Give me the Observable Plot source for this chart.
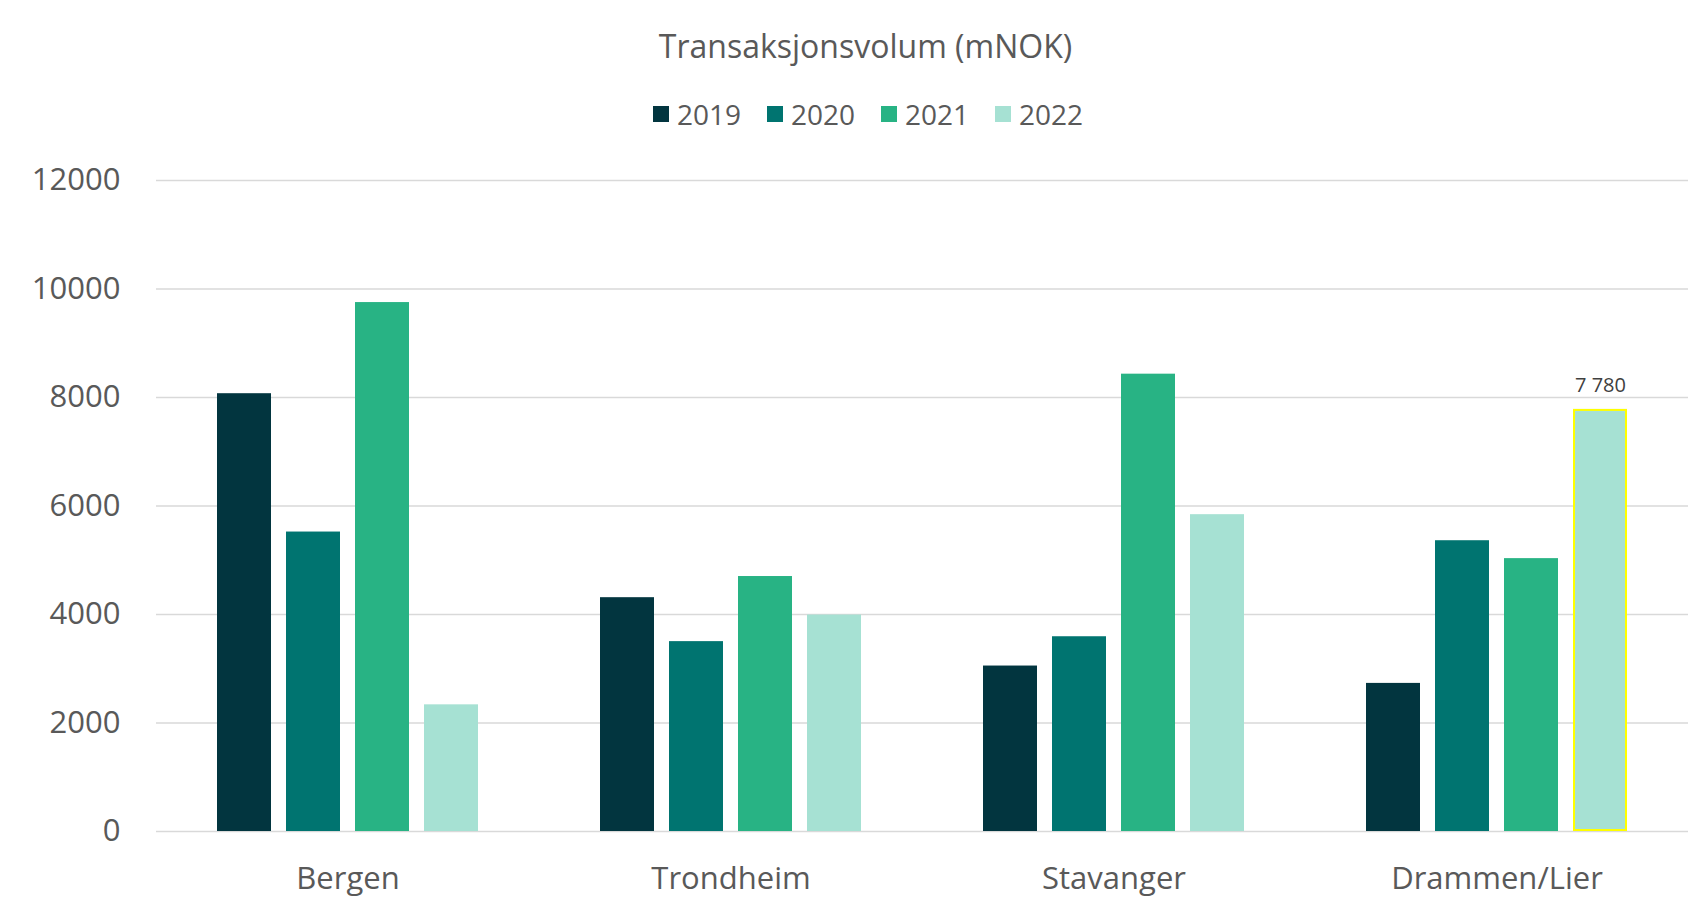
<!DOCTYPE html>
<html><head><meta charset="utf-8">
<script src="https://cdn.jsdelivr.net/npm/d3@7"></script>
<script src="https://cdn.jsdelivr.net/npm/@observablehq/plot@0.6"></script>
<style>
body{margin:0;background:#fff;font-family:"Open Sans",sans-serif;overflow:hidden;}
#title{height:92px;line-height:92px;text-align:center;font-size:32px;color:#595959;padding-left:32px;}
#legend{height:44px;margin-bottom:4px;display:flex;justify-content:center;align-items:center;gap:26px;font-size:28px;color:#595959;padding-left:37px;}
.item{display:flex;align-items:center;gap:8px}
.sw{width:16px;height:16px;display:inline-block}
#chart svg{display:block}
</style></head><body>
<div id="title">Transaksjonsvolum (mNOK)</div>
<div id="legend"></div>
<div id="chart"></div>
<script>
const cities = ["Bergen","Trondheim","Stavanger","Drammen/Lier"];
const years = ["2019","2020","2021","2022"];
const v2019 = [8070,4310,3050,2730];
const v2020 = [5520,3500,3590,5360];
const v2021 = [9750,4700,8430,5030];
const v2022 = [2335,3990,5840,7780];
const colors = ["#02353f","#007470","#28b384","#a6e1d3"];
const yTicks = [0,2000,4000,6000,8000,10000,12000];
const highlightCity = "Drammen/Lier";
const highlightYear = "2022";
const highlightLabel = "7 780";

const series = [v2019, v2020, v2021, v2022];
const rows = cities.flatMap((c, i) => years.map((y, j) => ({city: c, year: y, value: series[j][i]})));
const hl = rows.filter(d => d.city === highlightCity && d.year === highlightYear);

const legend = document.getElementById("legend");
years.forEach((y, i) => {
  const it = document.createElement("div");
  it.className = "item";
  it.innerHTML = `<span class="sw" style="background:${colors[i]}"></span><span>${y}</span>`;
  legend.appendChild(it);
});

const chart = Plot.plot({
  width: 1699, height: 770,
  marginTop: 40, marginBottom: 79, marginLeft: 155, marginRight: 11,
  style: {fontFamily: '"Open Sans", sans-serif', fontSize: "31px", color: "#595959", background: "#fff"},
  fx: {domain: cities, padding: 0, label: null, tickSize: 0, tickPadding: 35, axis: "bottom"},
  x: {domain: years, axis: null, paddingInner: 0.213, paddingOuter: 0.873},
  y: {domain: [0, 12000], ticks: yTicks, tickFormat: d3.format("d"), tickSize: 0, tickPadding: 36, label: null},
  color: {domain: years, range: colors},
  marks: [
    Plot.ruleY(yTicks, {stroke: "#d9d9d9", strokeWidth: 1.5}),
    Plot.barY(rows, {fx: "city", x: "year", y: "value", fill: "year"}),
    Plot.barY(hl, {fx: "city", x: "year", y: "value", fill: "none", stroke: "#ffff00", strokeWidth: 2, inset: 1}),
    Plot.text(hl, {fx: "city", x: "year", y: "value", text: () => highlightLabel, dy: -24, fontSize: 20, fill: "#404040"})
  ]
});
document.getElementById("chart").appendChild(chart);
</script>
</body></html>
